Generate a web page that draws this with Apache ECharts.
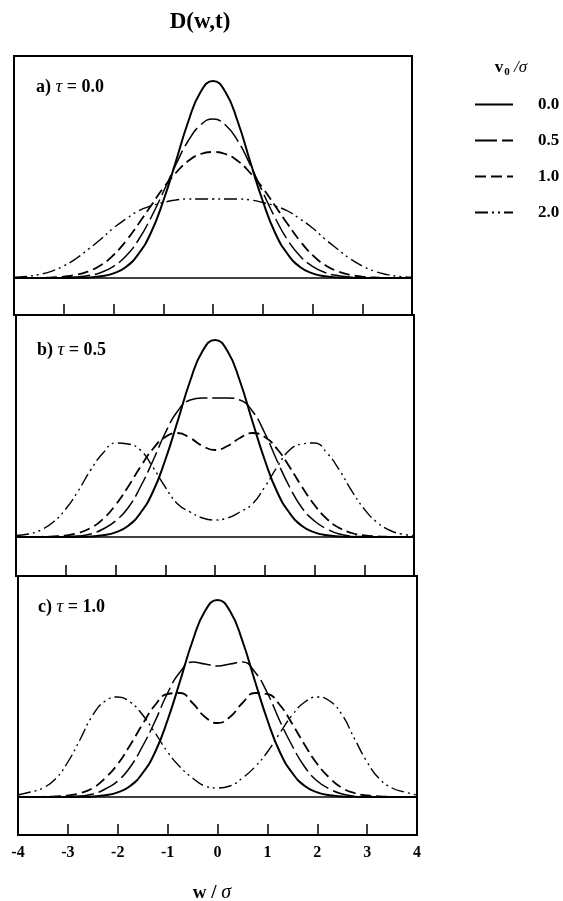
<!DOCTYPE html>
<html><head><meta charset="utf-8">
<script src="https://cdn.jsdelivr.net/npm/echarts@6/dist/echarts.min.js"></script>
<style>html,body{margin:0;padding:0;background:#fff}#c{width:563px;height:901px}</style>
</head><body><div id="c"></div>
<script>
// w / sigma sample positions
const W = [-4,-3.75,-3.5,-3.25,-3,-2.75,-2.5,-2.25,-2,-1.75,-1.5,-1.25,-1,-0.75,-0.5,-0.25,0,
           0.25,0.5,0.75,1,1.25,1.5,1.75,2,2.25,2.5,2.75,3,3.25,3.5,3.75,4];
// v0/sigma = 0.0 (same in every panel)
const solid = [0,0,0,0,0,0.2,0.6,1.7,4.6,11,24,45,77,116,156,186,197,186,156,116,77,45,24,11,4.6,1.7,0.6,0.2,0,0,0,0,0];
// panel a) tau = 0.0
const a05 = [0,0,0,0.1,0.3,0.9,2.4,5.5,11.7,22,38,60,86,113,137,153,159,153,137,113,86,60,38,22,11.7,5.5,2.4,0.9,0.3,0.1,0,0,0];
const a10 = [0,0,0.1,0.5,1.4,3.2,6.8,13,23,37,54,72,90,105,117,124,126,124,117,105,90,72,54,37,23,13,6.8,3.2,1.4,0.5,0.1,0,0];
const a20 = [0.7,1.6,3.4,6.7,12,19.5,29,39,50,59,67,72,75.5,78,79,79,79,79,79,78,75.5,72,67,59,50,39,29,19.5,12,6.7,3.4,1.6,0.7];
// panel b) tau = 0.5
const b05 = [0,0,0,0,0.3,1,3,8,16,29,50,76,104,126,137,139,139,139,137,126,104,76,50,29,16,8,3,1,0.3,0,0,0,0];
const b10 = [0,0,0.2,0.6,1.5,4,9,18,32,50,70,88,100,104,99,91,87,91,99,104,100,88,70,50,32,18,9,4,1.5,0.6,0.2,0,0];
const b20 = [1.5,3,7,15,28,46,67,84,94,93,87,70,50,33,25,19,17,19,25,33,50,70,87,93,94,84,67,46,28,15,7,3,1.5];
// panel c) tau = 1.0
const c05 = [0,0,0,0,0.3,1,3,8,16,30,51,76,104,125,135,133,131,133,135,125,104,76,51,30,16,8,3,1,0.3,0,0,0,0];
const c10 = [0,0,0.2,0.6,1.5,4,9,19,33,52,73,92,103,104,94,80,74,80,94,104,103,92,73,52,33,19,9,4,1.5,0.6,0.2,0,0];
const c20 = [2,5,9,18,35,58,82,96,100,95,82,64,45,30,19,11,9,11,19,30,45,64,82,95,100,96,82,58,35,18,9,5,2];

const seriesNames = ['0.0','0.5','1.0','2.0'];
const panelLetters = ['a)','b)','c)'];
const tauValues = ['0.0','0.5','1.0'];
const panelData = [[solid,a05,a10,a20],[solid,b05,b10,b20],[solid,c05,c10,c20]];

const FONT = '"Liberation Serif","Times New Roman",serif';
const layout = [
  {left:14, width:398, top:56, height:259, ymin:-37, ymax:222, lx:36, ly:87},
  {left:16, width:398, top:315, height:261, ymin:-39, ymax:222, lx:37, ly:350},
  {left:18, width:399, top:576, height:259, ymin:-38, ymax:221, lx:38, ly:607}
];
const lineStyles = [
  {type:'solid', width:2},
  {type:[22,5], width:1.5},
  {type:[11,5], width:1.8},
  {type:[13,4,2,4,2,4], width:1.4}
];

const grid = [], xAxis = [], yAxis = [], series = [], graphic = [];
layout.forEach((p, k) => {
  grid.push({left:p.left, top:p.top, width:p.width, height:p.height, show:true,
             borderColor:'#000', borderWidth:2, backgroundColor:'transparent',
             containLabel:false, outerBoundsMode:'none'});
  xAxis.push({type:'value', gridIndex:k, min:-4, max:4, interval:1, position:'bottom',
    axisLine:{show:true, onZero:false, lineStyle:{color:'#000', width:2}},
    axisTick:{show:true, inside:true, length:11, lineStyle:{color:'#000', width:1.5}},
    splitLine:{show:false},
    axisLabel:{show:k===2, margin:10, color:'#000', fontFamily:FONT, fontWeight:'bold', fontSize:16}});
  yAxis.push({type:'value', gridIndex:k, min:p.ymin, max:p.ymax, show:false, splitLine:{show:false}});
  panelData[k].forEach((arr, s) => {
    const ser = {type:'line', name:seriesNames[s], xAxisIndex:k, yAxisIndex:k,
      data: W.map((w,i)=>[w, arr[i]]), smooth:true, showSymbol:false, symbol:'none',
      lineStyle:Object.assign({color:'#000'}, lineStyles[s]), itemStyle:{color:'#000'},
      silent:true, z: 10 - s};
    if (s===0) ser.markLine = {silent:true, symbol:'none', label:{show:false},
      lineStyle:{color:'#000', type:'solid', width:1.5}, data:[{yAxis:0}]};
    series.push(ser);
  });
  graphic.push({type:'text', x:p.lx, y:p.ly, style:{
    text:'{b|'+panelLetters[k]+' }{t|τ}{b| = '+tauValues[k]+'}',
    textVerticalAlign:'middle', verticalAlign:'middle',
    rich:{b:{fontFamily:FONT, fontWeight:'bold', fontSize:18, color:'#000'},
          t:{fontFamily:FONT, fontStyle:'italic', fontSize:19, color:'#000'}}}});
});

graphic.push({type:'text', x:200, y:22, style:{text:'D(w,t)', font:'bold 23px '+FONT,
  fill:'#000', textAlign:'center', align:'center', textVerticalAlign:'middle', verticalAlign:'middle'}});
graphic.push({type:'text', x:212, y:893, style:{text:'{b|w / }{s|σ}',
  textAlign:'center', align:'center', textVerticalAlign:'middle', verticalAlign:'middle',
  rich:{b:{fontFamily:FONT, fontWeight:'bold', fontSize:19, color:'#000'},
        s:{fontFamily:FONT, fontStyle:'italic', fontSize:20, color:'#000'}}}});
graphic.push({type:'text', x:511, y:68, style:{text:'{v|v}{sub|0}{s| /σ}',
  textAlign:'center', align:'center', textVerticalAlign:'middle', verticalAlign:'middle',
  rich:{v:{fontFamily:FONT, fontWeight:'bold', fontSize:17, color:'#000'},
        sub:{fontFamily:FONT, fontWeight:'bold', fontSize:11, color:'#000', verticalAlign:'bottom', padding:[8,0,0,1]},
        s:{fontFamily:FONT, fontStyle:'italic', fontSize:17, color:'#000'}}}});

const chart = echarts.init(document.getElementById('c'), null, {renderer:'canvas'});
chart.setOption({
  animation:false,
  backgroundColor:'#fff',
  grid, xAxis, yAxis, series, graphic,
  legend:{data:seriesNames, orient:'vertical', left:469, top:91, itemWidth:38, itemHeight:10,
    itemGap:19, selectedMode:false, itemStyle:{opacity:0},
    textStyle:{fontFamily:FONT, fontWeight:'bold', fontSize:17, color:'#000', padding:[0,0,0,20]}}
});
</script></body></html>
